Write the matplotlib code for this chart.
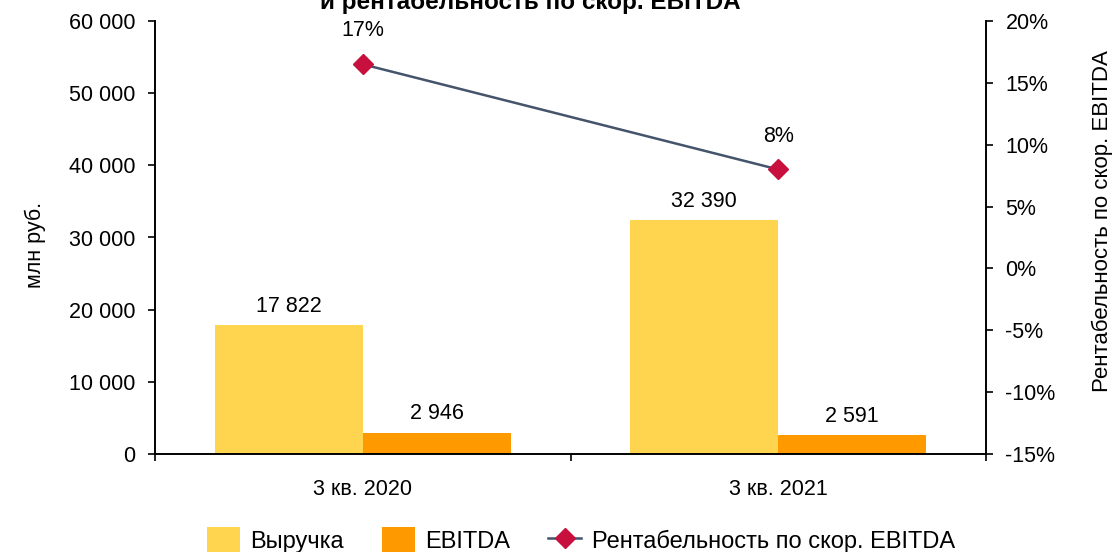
import numpy as np
import matplotlib.pyplot as plt
from matplotlib.ticker import FuncFormatter, FixedLocator

plt.rcParams['font.family'] = ['Liberation Sans', 'DejaVu Sans']

categories = ['3 кв. 2020', '3 кв. 2021']
revenue = [17822, 32390]
ebitda = [2946, 2591]
margin = [16.5, 8.0]
margin_labels = ['17%', '8%']

c_rev = '#FFD54F'
c_ebitda = '#FF9900'
c_line = '#44546A'
c_marker = '#C8103E'
fs = 15.5

def fmt_thousands(v, pos=None):
    return '{:,.0f}'.format(v).replace(',', ' ')

fig = plt.figure(figsize=(11.17, 5.52), dpi=100)
ax = fig.add_axes([155 / 1117, 1 - 454 / 552, (986 - 155) / 1117, (454 - 21) / 552])
ax2 = ax.twinx()

x = np.arange(len(categories))
w = 0.356
b1 = ax.bar(x - w / 2, revenue, w, color=c_rev, label='Выручка', zorder=2)
b2 = ax.bar(x + w / 2, ebitda, w, color=c_ebitda, label='EBITDA', zorder=2)

for bars, vals in ((b1, revenue), (b2, ebitda)):
    for r, v in zip(bars, vals):
        ax.text(r.get_x() + r.get_width() / 2, v + 1200, fmt_thousands(v),
                ha='center', va='bottom', fontsize=fs)

ax.set_xlim(-0.5, 1.5)
ax.set_ylim(0, 60000)
ax.set_yticks(np.arange(0, 60001, 10000))
ax.yaxis.set_major_formatter(FuncFormatter(fmt_thousands))
ax.set_ylabel('млн руб.', fontsize=fs)
ax.yaxis.set_label_coords(-0.131, 0.483)

ax.set_xticks(x)
ax.set_xticklabels(categories, fontsize=fs)
ax.tick_params(axis='x', length=0, pad=18)
ax.xaxis.set_minor_locator(FixedLocator([-0.5, 0.5, 1.5]))
ax.tick_params(axis='x', which='minor', length=5, width=1.2, direction='out')
ax.tick_params(axis='y', labelsize=fs, length=5, width=1.2, direction='out', pad=9)

ax2.plot(x, margin, color=c_line, lw=1.8, marker='D', markersize=10,
         markerfacecolor=c_marker, markeredgecolor=c_marker,
         label='Рентабельность по скор. EBITDA', zorder=3)
for xi, m, lab in zip(x, margin, margin_labels):
    ax2.text(xi, m + 1.85, lab, ha='center', va='bottom', fontsize=fs)
ax2.set_ylim(-15, 20)
ax2.set_yticks(np.arange(-15, 21, 5))
ax2.yaxis.set_major_formatter(FuncFormatter(lambda v, p: '{:.0f}%'.format(v)))
ax2.tick_params(axis='y', labelsize=fs, length=5, width=1.2, direction='out', pad=9)
ax2.set_ylabel('Рентабельность по скор. EBITDA', fontsize=16)
ax2.yaxis.set_label_coords(1.127, 0.538)

for a in (ax, ax2):
    a.spines['top'].set_visible(False)
    for s in ('left', 'right', 'bottom'):
        a.spines[s].set_linewidth(1.2)

fig.text(0.475, 1 - 9 / 552, 'и рентабельность по скор. EBITDA', ha='center', va='baseline',
         fontsize=17.5, fontweight='bold')

h1, l1 = ax.get_legend_handles_labels()
h2, l2 = ax2.get_legend_handles_labels()
fig.legend(h1 + h2, l1 + l2, loc='center', bbox_to_anchor=(0.52, 1 - 540 / 552), ncol=3,
           frameon=False, fontsize=17, handlelength=1.4, handleheight=1.2,
           columnspacing=1.6, handletextpad=0.45, borderpad=0)

fig.savefig('out.png', dpi=100)
